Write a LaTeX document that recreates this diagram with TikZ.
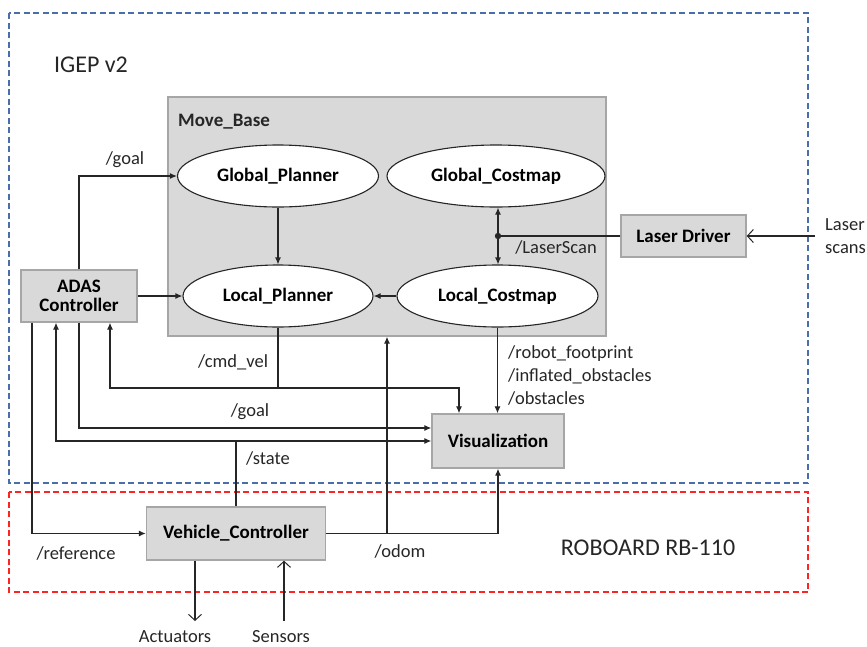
\documentclass[tikz,border=0pt]{standalone}
\usepackage{fontspec}
\setmainfont{Carlito}
\usetikzlibrary{shapes.geometric,arrows.meta,calc}
\definecolor{igepblue}{HTML}{4A6EA9}
\definecolor{rbred}{HTML}{FF2424}
\definecolor{boxgray}{HTML}{D9D9D9}
\definecolor{boxedge}{HTML}{A6A6A6}
\definecolor{linec}{HTML}{262626}
\begin{document}
\begin{tikzpicture}[x=1pt,y=-1pt,
  ell/.style={ellipse,draw=linec,line width=1.1pt,fill=white,inner sep=0pt,font=\fontsize{19}{22}\selectfont\bfseries},
  gbox/.style={rectangle,draw=boxedge,line width=1.4pt,fill=boxgray,inner sep=0pt,font=\fontsize{19}{22}\selectfont\bfseries,align=center},
  lbl/.style={font=\fontsize{18.5}{23}\selectfont,text=linec,inner sep=0pt},
  conn/.style={draw=linec,line width=1.1pt},
  arr/.style={conn,-{Latex[length=7pt,width=6pt]}},
  oarr/.style={conn,-{Straight Barb[length=6pt,width=13pt,line width=1pt]}},
  bigtxt/.style={font=\fontsize{24}{28}\selectfont,text=linec,inner sep=0pt}
  ]
\useasboundingbox (0,0) rectangle (867,646);
% frames
\draw[igepblue,line width=1.8pt,dash pattern=on 6pt off 3.5pt] (9,13) rectangle (808,483);
\draw[rbred,line width=1.8pt,dash pattern=on 6pt off 3.5pt] (9,492) rectangle (808,592);
\node[bigtxt] (igep) at (91,65) {IGEP v2};
\node[bigtxt] (robo) at (648,548) {ROBOARD RB-110};
% move base
\node[gbox,minimum width=438pt,minimum height=239pt] (mb) at (387,216.5) {};
\node[lbl,font=\fontsize{19}{22}\selectfont\bfseries,anchor=west] (mbl) at (178,122) {Move\_Base};
\node[ell,minimum width=201pt,minimum height=62pt] (gp) at (278,176) {Global\_Planner};
\node[ell,minimum width=218pt,minimum height=62pt] (gc) at (496,176) {Global\_Costmap};
\node[ell,minimum width=190pt,minimum height=62pt] (lp) at (278,296) {Local\_Planner};
\node[ell,minimum width=201pt,minimum height=62pt] (lc) at (497.5,296) {Local\_Costmap};
% boxes
\node[gbox,minimum width=116pt,minimum height=52pt] (adas) at (79,296) {ADAS\\[-3pt]Controller};
\node[gbox,minimum width=125pt,minimum height=42pt] (ld) at (683.5,236) {Laser Driver};
\node[gbox,minimum width=132pt,minimum height=54pt] (vis) at (498,441) {Visualization};
\node[gbox,minimum width=179pt,minimum height=53pt] (vc) at (236,533.5) {Vehicle\_Controller};
% inside move base
\draw[arr] (adas.north) |- (gp.west);
\draw[arr] (adas.east) -- (lp.west);
\draw[arr] (gp.south) -- (lp.north);
\draw[arr] (lc.west) -- (lp.east);
\coordinate (ls) at (498,236);
\draw[arr] (ls) -- (ls |- gc.south);
\draw[arr] (ls) -- (ls |- lc.north);
\draw[conn] (ld.west) -- (ls);
\fill[linec] (ls) circle (3.2pt);
\coordinate (lsin) at (815,236);
\draw[oarr] (lsin) -- (ld.east);
\node[lbl,anchor=west,align=left] (lscan) at (825,236) {Laser\\scans};
% cmd_vel
\coordinate (cv) at (lp.south |- 0,388);
\draw[conn] (lp.south) -- (cv);
\draw[arr] (cv) -| ([xshift=31pt]adas.south);
\draw[arr] (cv) -| ([xshift=-39pt]vis.north);
% goal to vis
\draw[arr] (adas.south) |- ([yshift=13pt]vis.west);
% state
\coordinate (st) at (vc.north |- vis.west);
\draw[conn] (vc.north) -- (st);
\draw[arr] (st) -- (vis.west);
\draw[arr] (st) -| ([xshift=-23pt]adas.south);
% reference
\draw[arr] ([xshift=-47pt]adas.south) |- (vc.west);
% odom
\coordinate (od) at (vc.east -| vis.south);
\coordinate (odb) at (387,533.5);
\draw[conn] (vc.east) -- (od);
\draw[arr] (od) -- (vis.south);
\draw[arr] (odb) -- (odb |- mb.south);
% costmap to vis
\draw[arr] (lc.south) -- (lc.south |- vis.north);
% actuators / sensors
\coordinate (actp) at (195,621);
\coordinate (senp) at (284,621);
\draw[oarr] (actp |- vc.south) -- (actp);
\draw[oarr] (senp) -- (senp |- vc.south);
\node[lbl] (act) at (175,637) {Actuators};
\node[lbl] (sen) at (281,637) {Sensors};
% labels
\node[lbl] (l1) at (125,160) {/goal};
\node[lbl] (l2) at (556,247) {/LaserScan};
\node[lbl] (l3) at (233,362) {/cmd\_vel};
\node[lbl] (l4) at (250,412) {/goal};
\node[lbl] (l5) at (268,458) {/state};
\node[lbl] (l6) at (76,553) {/reference};
\node[lbl] (l7) at (400,551) {/odom};
\node[lbl,anchor=west,align=left] (l8) at (508,375) {/robot\_footprint\\/inflated\_obstacles\\/obstacles};
\end{tikzpicture}
\end{document}
